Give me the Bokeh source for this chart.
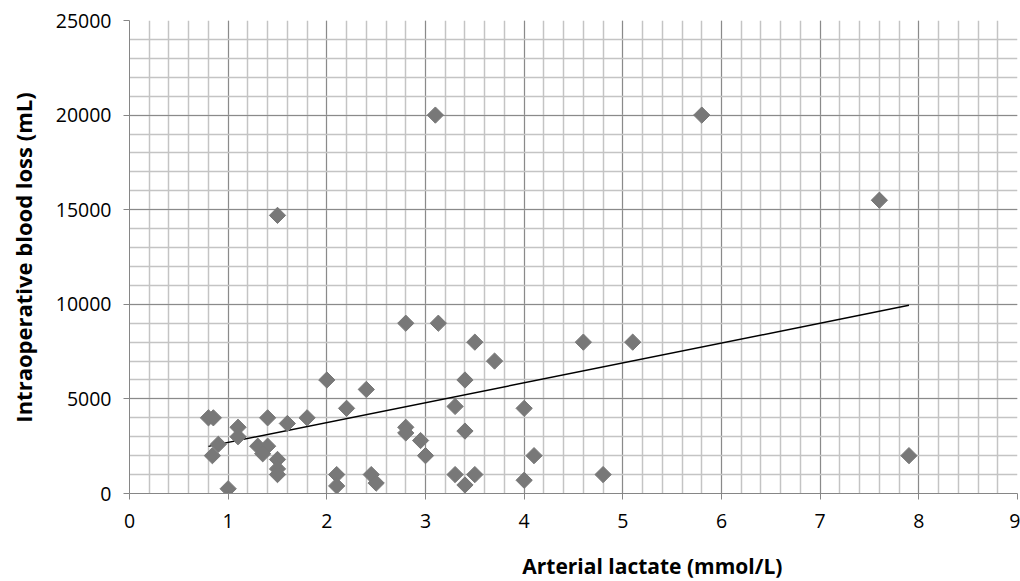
import numpy as np
from bokeh.plotting import figure
from bokeh.layouts import row, column
from bokeh.models import ColumnDataSource, Label, SingleIntervalTicker, Range1d
from bokeh.embed import file_html
from bokeh.resources import INLINE

# ---- data ----
lactate = [0.8, 0.85, 0.9, 0.84, 1.0, 1.1, 1.1, 1.3, 1.4, 1.35, 1.4, 1.5, 1.5, 1.5, 1.5,
           1.6, 1.8, 2.0, 2.1, 2.1, 2.2, 2.4, 2.45, 2.5, 2.8, 2.8, 2.8, 2.95, 3.0, 3.1,
           3.13, 3.3, 3.3, 3.4, 3.4, 3.4, 3.5, 3.5, 3.7, 4.0, 4.0, 4.1, 4.6, 4.8, 5.1,
           5.8, 7.6, 7.9]
blood_loss = [4000, 4000, 2600, 2000, 250, 3500, 3000, 2500, 2500, 2100, 4000, 14700, 1800, 1300, 1000,
              3700, 4000, 6000, 1000, 400, 4500, 5500, 1000, 550, 9000, 3500, 3200, 2800, 2000, 20000,
              9000, 4600, 1000, 6000, 3300, 450, 8000, 1000, 7000, 4500, 700, 2000, 8000, 1000, 8000,
              20000, 15500, 2000]
trend_intercept = 1650
trend_slope = 1050
x_title = "Arterial lactate (mmol/L)"
y_title = "Intraoperative blood loss (mL)"

FONT = "Open Sans"
LEFT_W = 40      # strip holding the y title
MAIN_H = 541     # main plot height
BOTTOM_H = 40    # strip holding the x title


def bare(fig):
    fig.axis.visible = False
    fig.grid.visible = False
    fig.outline_line_color = None
    fig.min_border = 0
    fig.background_fill_color = "white"
    fig.border_fill_color = "white"


# main plot
p = figure(width=1020 - LEFT_W, height=MAIN_H, output_backend="svg", toolbar_location=None,
           x_range=Range1d(0, 9), y_range=Range1d(0, 25000),
           min_border_left=129 - LEFT_W, min_border_right=3, min_border_top=20, min_border_bottom=48)
p.outline_line_color = None
p.background_fill_color = "white"
p.border_fill_color = "white"

src = ColumnDataSource(dict(x=lactate, y=blood_loss))

tx = np.array([min(lactate), max(lactate)])
ty = trend_intercept + trend_slope * tx
p.line(tx, ty, line_color="black", line_width=1.5)

p.scatter("x", "y", source=src, marker="square", angle=np.pi / 4, size=11.5,
          fill_color="#787878", line_color="#787878")

p.xaxis.ticker = SingleIntervalTicker(interval=1, num_minor_ticks=5)
p.yaxis.ticker = SingleIntervalTicker(interval=5000, num_minor_ticks=5)
for ax in (p.xaxis[0], p.yaxis[0]):
    ax.axis_line_color = "#868686"
    ax.major_tick_line_color = "#868686"
    ax.major_tick_out = 6
    ax.major_tick_in = 0
    ax.minor_tick_out = 0
    ax.minor_tick_in = 0
    ax.major_label_text_font = FONT
    ax.major_label_text_font_size = "19.5px"
    ax.major_label_text_color = "black"
p.xaxis.major_label_standoff = 14
p.yaxis.major_label_standoff = 12

for g in (p.xgrid[0], p.ygrid[0]):
    g.grid_line_color = "#8a8a8a"
    g.grid_line_width = 1
    g.minor_grid_line_color = "#c4c4c4"
    g.minor_grid_line_width = 1.5

# strip below: x title
pb = figure(width=1020 - LEFT_W, height=BOTTOM_H, output_backend="svg", toolbar_location=None,
            x_range=Range1d(LEFT_W, 1020), y_range=Range1d(0, BOTTOM_H))
bare(pb)
pb.add_layout(Label(x=617, y=BOTTOM_H - (565 - MAIN_H), text=x_title,
                    text_font=FONT, text_font_style="bold", text_font_size="21px",
                    text_align="center", text_baseline="middle", text_color="black"))

# strip at left: y title
pl = figure(width=LEFT_W, height=MAIN_H + BOTTOM_H, output_backend="svg", toolbar_location=None,
            x_range=Range1d(0, LEFT_W), y_range=Range1d(0, MAIN_H + BOTTOM_H))
bare(pl)
pl.add_layout(Label(x=22, y=MAIN_H + BOTTOM_H - 257, text=y_title, angle=np.pi / 2,
                    text_font=FONT, text_font_style="bold", text_font_size="22px",
                    text_align="center", text_baseline="middle", text_color="black"))

layout = row(pl, column(p, pb, spacing=0), spacing=0)
open("out.html", "w").write(file_html(layout, INLINE))
